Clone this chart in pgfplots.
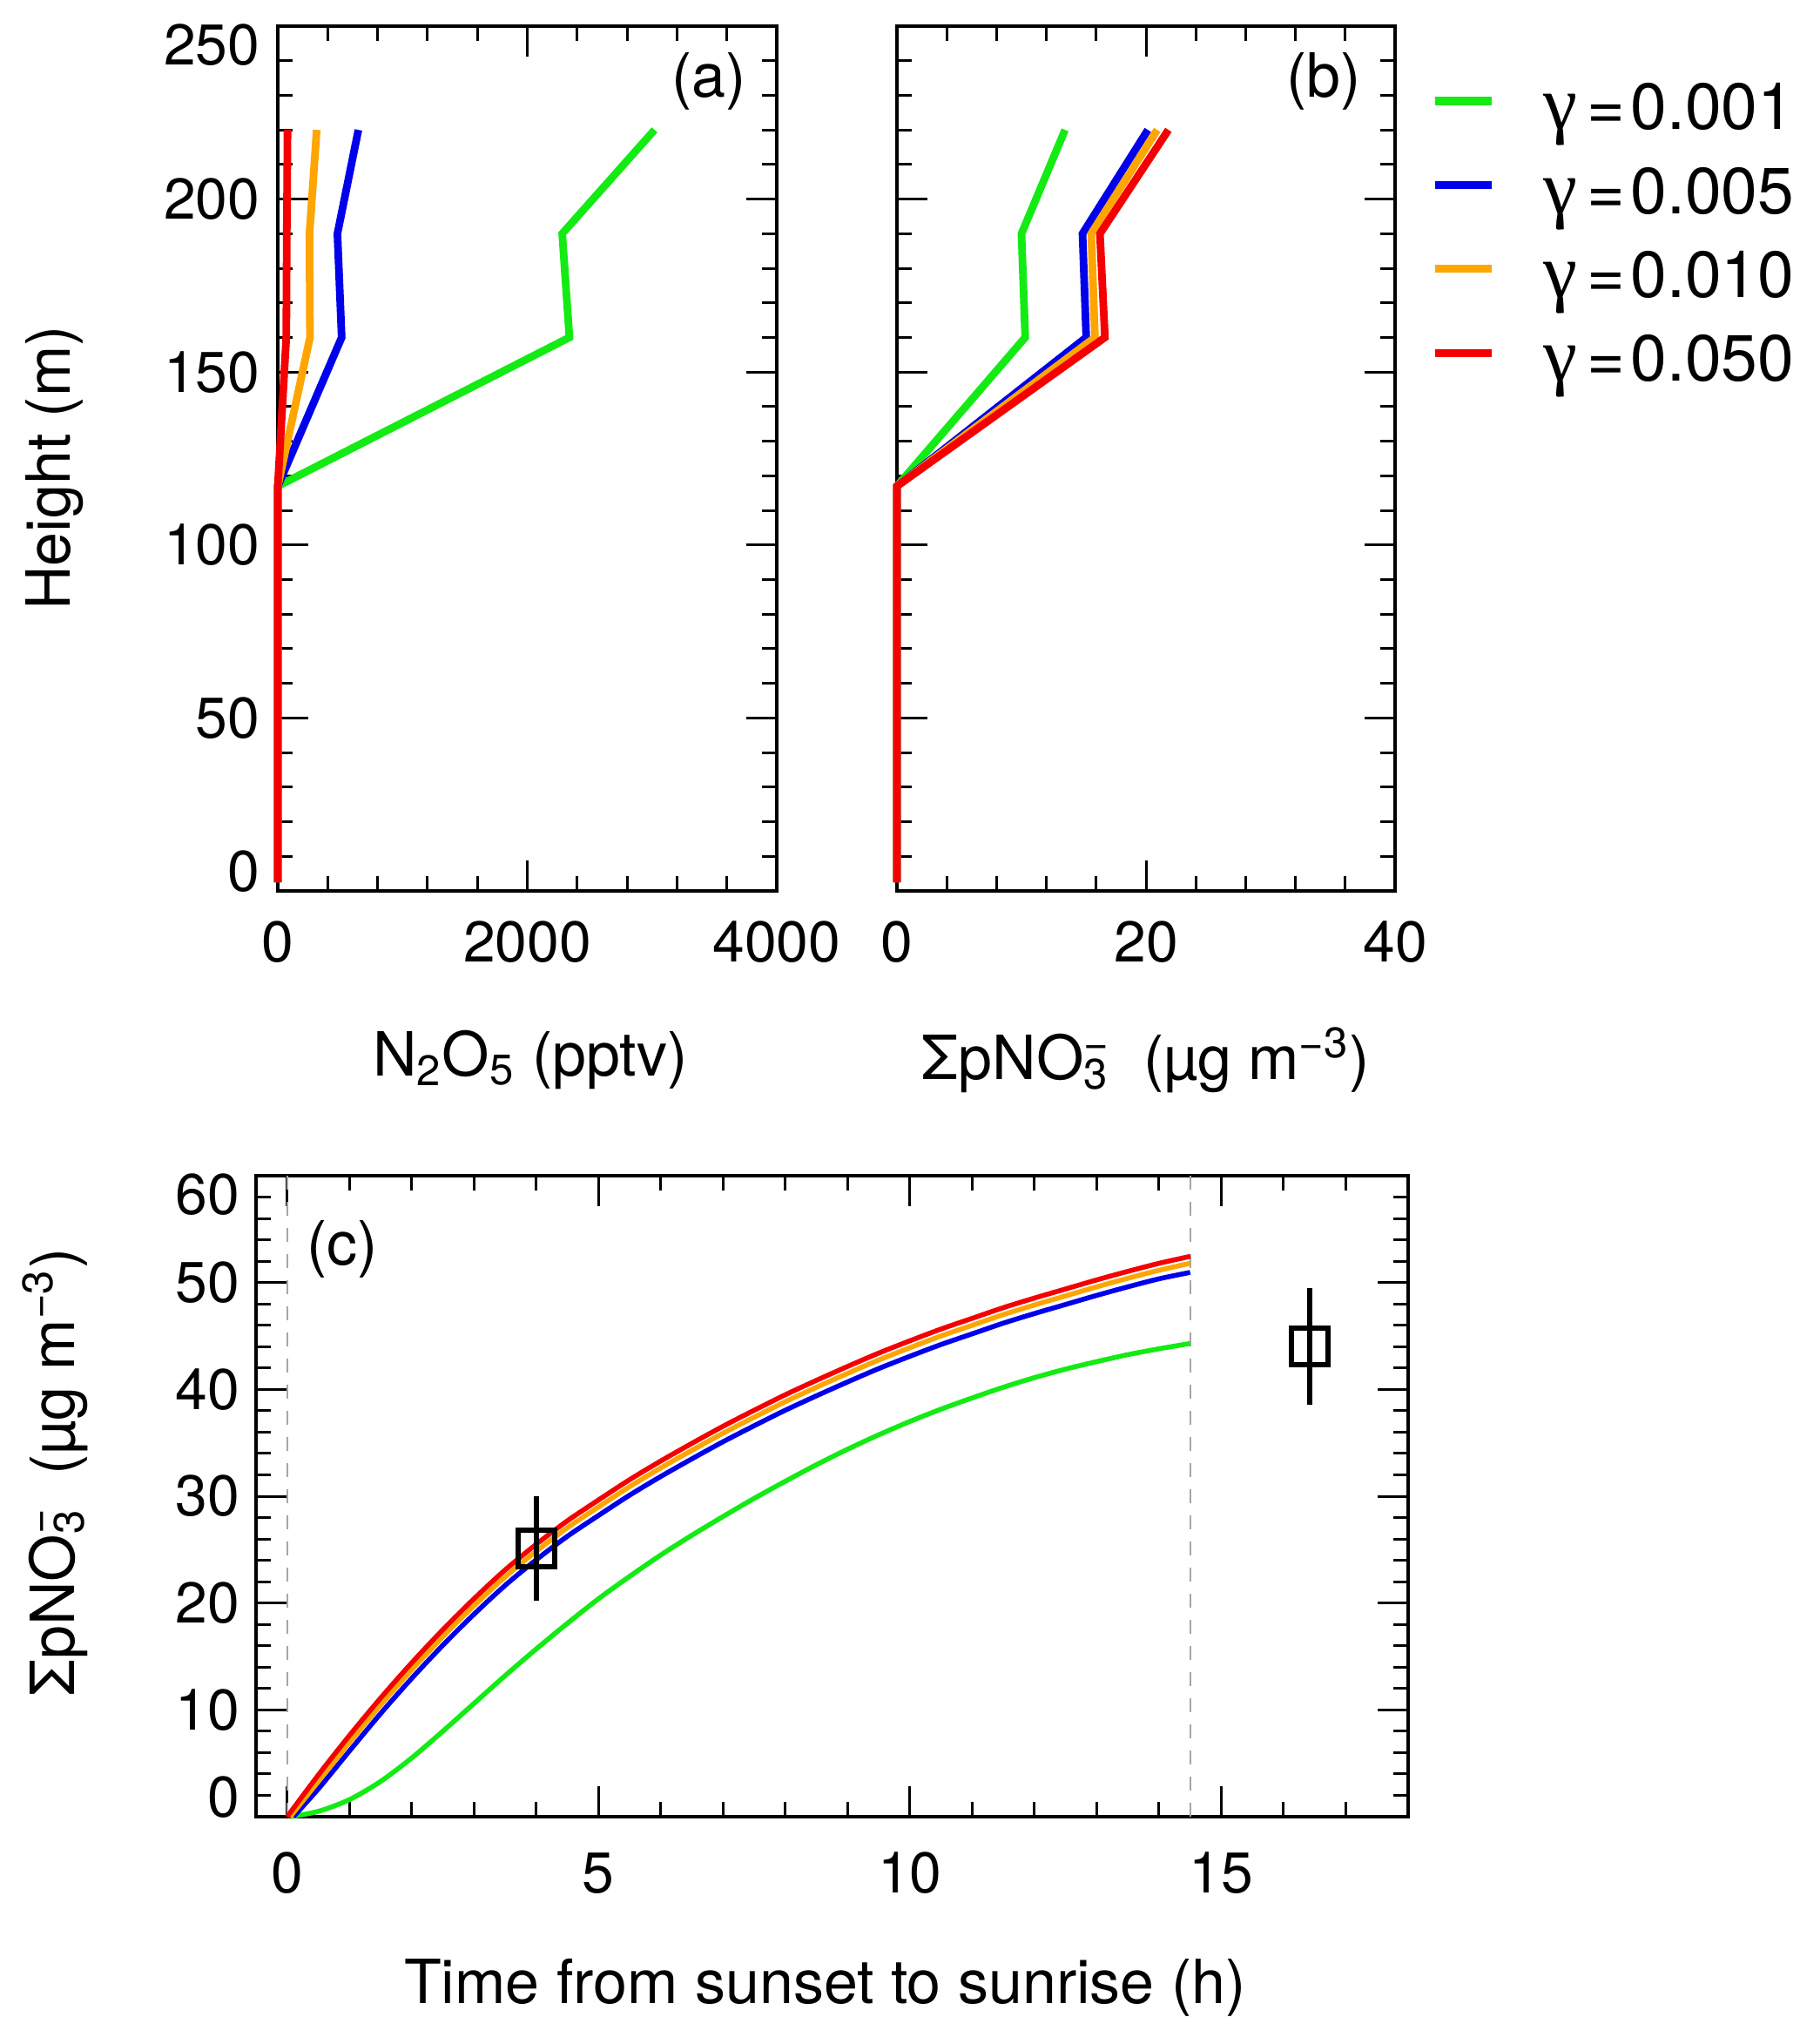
\documentclass[border=0pt]{standalone}
\usepackage{fontspec}
\setmainfont{TeX Gyre Heros}
\newfontfamily\gfont{Liberation Serif}
\usepackage{pgfplots}
\pgfplotsset{compat=1.18}

\definecolor{cgreen}{RGB}{20,235,20}
\definecolor{cblue}{RGB}{0,0,235}
\definecolor{corange}{RGB}{255,165,0}
\definecolor{cred}{RGB}{245,0,0}

\newcommand\tickfont{\fontsize{16.5}{19}\selectfont}
\newcommand\labfont{\fontsize{17.5}{21}\selectfont}
\newcommand\legfont{\fontsize{18.75}{22}\selectfont}
\newcommand\pno{ΣpNO\rlap{\textsuperscript{−}}\textsubscript{3}}
\newcommand\gam{{\gfont\fontsize{22}{22}\selectfont γ}\kern3pt=\kern1.5pt}

\pgfplotsset{
  common/.style={
    scale only axis,
    tick align=inside,
    major tick length=8.75pt, minor tick length=4.25pt,
    tick style={black, line width=0.75pt},
    axis line style={line width=0.85pt},
    /pgf/number format/assume math mode=true,
    /pgf/number format/1000 sep={},
    tick label style={font=\tickfont},
    label style={font=\labfont},
    xticklabel style={anchor=center},
    yticklabel style={anchor=east, inner sep=0pt},
    clip=false,
  },
  endlabels/.style={yticklabel={\ifnum\ticknum=0 \raisebox{5.5pt}[\height][\depth]{\pgfmathprintnumber{\tick}}\else\ifnum\ticknum=#1 \raisebox{-5.5pt}[\height][\depth]{\pgfmathprintnumber{\tick}}\else\pgfmathprintnumber{\tick}\fi\fi}},
}

\begin{document}
\begin{tikzpicture}
\useasboundingbox (0,0) rectangle (516.75pt,586.75pt);

% ---------------- panel (a)
\begin{axis}[common, endlabels=5,
  at={(79.75pt,331pt)}, anchor=south west,
  width=143.25pt, height=248.25pt,
  xmin=0, xmax=4000, ymin=0, ymax=250,
  xtick={0,2000,4000}, minor xtick={400,800,1200,1600,2400,2800,3200,3600},
  ytick={0,50,100,150,200,250}, minor ytick={10,20,...,240},
  xticklabel style={yshift=-14.75pt},
  yticklabel style={xshift=-5pt},
  xlabel={N\textsubscript{2}O\textsubscript{5} (pptv)},
  ylabel={Height (m)},
  xlabel style={at={(axis description cs:0.506,-0.1954)}, anchor=center},
  ylabel style={at={(axis description cs:-0.4468,0.489)}, anchor=center},
]
\addplot[cgreen, line width=2.2pt] coordinates {(0,2.5) (0,117) (2338,160) (2280,190) (3020,220)};
\addplot[cblue, line width=2.2pt] coordinates {(0,2.5) (0,117) (512,160) (478,190) (646,220)};
\addplot[corange, line width=2.2pt] coordinates {(0,2.5) (0,117) (258,160) (254,190) (312,220)};
\addplot[cred, line width=2.2pt] coordinates {(0,2.5) (0,117) (68,160) (72,190) (78,220)};
\node[font=\labfont] at (axis description cs:0.864,0.9366) {(a)};
\end{axis}

% ---------------- panel (b)
\begin{axis}[common,
  at={(257.5pt,331pt)}, anchor=south west,
  width=143pt, height=248.25pt,
  xmin=0, xmax=40, ymin=0, ymax=250,
  xtick={0,20,40}, minor xtick={4,8,12,16,24,28,32,36},
  ytick={0,50,100,150,200,250}, minor ytick={10,20,...,240},
  yticklabels={},
  xticklabel style={yshift=-14.75pt},
  xlabel={\pno\ \ (µg m\textsuperscript{−3})},
  xlabel style={at={(axis description cs:0.5,-0.1954)}, anchor=center},
  legend style={at={(axis description cs:1.0717,0.9376)}, anchor=north west,
    draw=none, fill=none, inner sep=0pt, font=\legfont,
    row sep=0pt, column sep=13.5pt,
    nodes={inner sep=0pt, text height=14pt, text depth=10.1pt}},
  legend cell align=left,
  legend image code/.code={\draw[#1, line width=2.3pt] (0pt,6.25pt) -- (16.25pt,6.25pt);},
]
\addplot[cgreen, line width=2.2pt] coordinates {(0,2.5) (0,117) (10.3,160) (10.0,190) (13.5,220)};
\addlegendentry{\gam 0.001}
\addplot[cblue, line width=2.2pt] coordinates {(0,2.5) (0,117) (15.2,160) (14.9,190) (20.15,220)};
\addlegendentry{\gam 0.005}
\addplot[corange, line width=2.2pt] coordinates {(0,2.5) (0,117) (15.9,160) (15.6,190) (20.9,220)};
\addlegendentry{\gam 0.010}
\addplot[cred, line width=2.2pt] coordinates {(0,2.5) (0,117) (16.7,160) (16.3,190) (21.8,220)};
\addlegendentry{\gam 0.050}
\node[font=\labfont] at (axis description cs:0.857,0.9366) {(b)};
\end{axis}

% ---------------- panel (c)
\begin{axis}[common, endlabels=6,
  at={(73.5pt,65.25pt)}, anchor=south west,
  width=330.75pt, height=184pt,
  xmin=-0.5, xmax=18, ymin=0, ymax=60,
  xtick={0,5,10,15}, minor xtick={1,2,3,4,6,7,8,9,11,12,13,14,16,17},
  ytick={0,10,20,30,40,50,60}, minor ytick={2,4,...,58},
  xticklabel style={yshift=-16.25pt},
  yticklabel style={xshift=-4.5pt},
  xlabel={Time from sunset to sunrise (h)},
  ylabel={\pno\ \ (µg m\textsuperscript{−3})},
  xlabel style={at={(axis description cs:0.494,-0.2663)}, anchor=center},
  ylabel style={at={(axis description cs:-0.1746,0.537)}, anchor=center},
]
\addplot[gray!70, line width=0.5pt, dash pattern=on 4pt off 3.5pt] coordinates {(0,0) (0,60)};
\addplot[gray!70, line width=0.5pt, dash pattern=on 4pt off 3.5pt] coordinates {(14.5,0) (14.5,60)};
\addplot[cgreen, line width=1.4pt, smooth] coordinates {
 (0.05,0) (0.5,0.5) (1,1.6) (1.5,3.3) (2,5.5) (2.5,8.0) (3,10.6) (3.5,13.2) (4,15.7)
 (4.5,18.1) (5,20.4) (5.5,22.5) (6,24.5) (6.5,26.35) (7,28.1) (7.5,29.8) (8,31.4)
 (8.5,32.95) (9,34.4) (9.5,35.75) (10,37.0) (10.5,38.15) (11,39.2) (11.5,40.2)
 (12,41.1) (12.5,41.9) (13,42.6) (13.5,43.25) (14,43.8) (14.5,44.3)};
\addplot[cblue, line width=1.4pt, smooth] coordinates {
 (0.1,0) (0.5,2.6) (1,6.15) (1.5,9.65) (2,12.95) (2.5,16.05) (3,18.95) (3.5,21.65)
 (4,24.05) (4.5,26.25) (5,28.2) (5.5,30.1) (6,31.85) (6.5,33.5) (7,35.1) (7.5,36.6)
 (8,38.05) (8.5,39.4) (9,40.7) (9.5,41.95) (10,43.1) (10.5,44.2) (11,45.2) (11.5,46.2)
 (12,47.1) (12.5,47.95) (13,48.8) (13.5,49.6) (14,50.35) (14.5,50.95)};
\addplot[corange, line width=1.4pt, smooth] coordinates {
 (0.05,0) (0.5,3.3) (1,6.95) (1.5,10.45) (2,13.75) (2.5,16.85) (3,19.75) (3.5,22.45)
 (4,24.85) (4.5,27.05) (5,29.0) (5.5,30.9) (6,32.65) (6.5,34.3) (7,35.9) (7.5,37.4)
 (8,38.85) (8.5,40.2) (9,41.5) (9.5,42.75) (10,43.9) (10.5,45.0) (11,46.0) (11.5,47.0)
 (12,47.9) (12.5,48.75) (13,49.6) (13.5,50.4) (14,51.15) (14.5,51.8)};
\addplot[cred, line width=1.4pt, smooth] coordinates {
 (0,0) (0.5,3.9) (1,7.6) (1.5,11.1) (2,14.4) (2.5,17.5) (3,20.4) (3.5,23.1)
 (4,25.5) (4.5,27.7) (5,29.65) (5.5,31.55) (6,33.3) (6.5,34.95) (7,36.55) (7.5,38.05)
 (8,39.5) (8.5,40.85) (9,42.15) (9.5,43.4) (10,44.55) (10.5,45.65) (11,46.65) (11.5,47.65)
 (12,48.55) (12.5,49.4) (13,50.25) (13.5,51.05) (14,51.8) (14.5,52.45)};
\addplot[black, only marks, mark=square, mark size=5.25pt, line width=1.5pt,
  error bars/.cd, y dir=both, y explicit, error mark=none,
  error bar style={line width=1.5pt}]
  coordinates {(4,25.1) +- (0,4.9) (16.42,44.05) +- (0,5.45)};
\node[font=\labfont] at (axis description cs:0.0748,0.886) {(c)};
\end{axis}
\end{tikzpicture}
\end{document}
